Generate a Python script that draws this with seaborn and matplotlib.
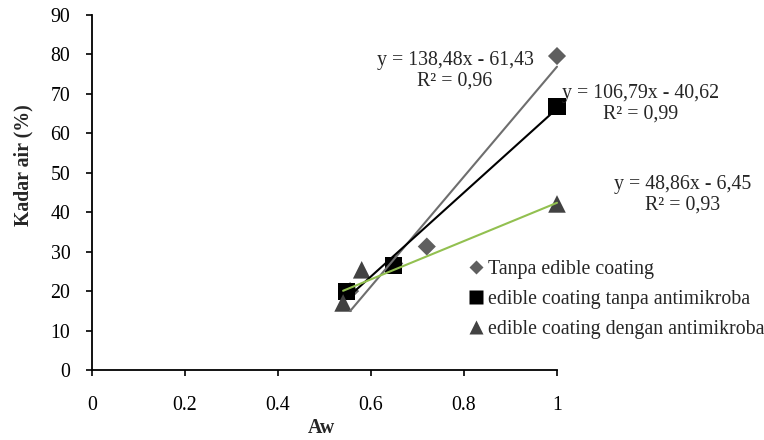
import numpy as np
import pandas as pd
import matplotlib
matplotlib.use("Agg")
import matplotlib.pyplot as plt
import seaborn as sns

# Data
series_names = ["Tanpa edible coating",
                "edible coating tanpa antimikroba",
                "edible coating dengan antimikroba"]
aw_tanpa = [0.555, 0.65, 0.72, 1.0]
ka_tanpa = [20.0, 27.0, 31.3, 79.6]
aw_tanpa_anti = [0.548, 0.649, 1.0]
ka_tanpa_anti = [20.0, 26.6, 66.8]
aw_dengan_anti = [0.54, 0.58, 1.0]
ka_dengan_anti = [17.0, 25.4, 42.1]
equations = ["y = 138,48x - 61,43\nR² = 0,96",
             "y = 106,79x - 40,62\nR² = 0,99",
             "y = 48,86x - 6,45\nR² = 0,93"]
x_ticks = [0, 0.2, 0.4, 0.6, 0.8, 1]
x_tick_labels = ["0", "0.2", "0.4", "0.6", "0.8", "1"]
y_ticks = [0, 10, 20, 30, 40, 50, 60, 70, 80, 90]

sns.set_style("white")
plt.rcParams['font.family'] = ['Liberation Serif', 'DejaVu Serif']

FS = 14.3

fig = plt.figure(figsize=(7.64, 4.40), dpi=100)
W, H = 764, 440
ax = fig.add_axes([92 / W, 1 - 370 / H, (557 - 92) / W, (370 - 15) / H])

df = pd.concat([
    pd.DataFrame({"Aw": aw_tanpa, "Kadar": ka_tanpa, "seri": series_names[0]}),
    pd.DataFrame({"Aw": aw_tanpa_anti, "Kadar": ka_tanpa_anti, "seri": series_names[1]}),
    pd.DataFrame({"Aw": aw_dengan_anti, "Kadar": ka_dengan_anti, "seri": series_names[2]}),
])

marker_colors = ["#5f5f5f", "#000000", "#424242"]
line_colors = ["#6e6e6e", "#000000", "#92c050"]
markers = ["D", "s", "^"]
sizes = [85, 150, 160]

handles = []
for i, name in enumerate(series_names):
    sub = df[df["seri"] == name]
    sns.scatterplot(data=sub, x="Aw", y="Kadar", marker=markers[i], s=sizes[i],
                    color=marker_colors[i], edgecolor="none", ax=ax, zorder=3 + i,
                    legend=False, clip_on=False)
for i, name in enumerate(series_names):
    sub = df[df["seri"] == name]
    p = np.polyfit(sub["Aw"], sub["Kadar"], 1)
    xs = np.array([sub["Aw"].min(), sub["Aw"].max()])
    ax.plot(xs, np.polyval(p, xs), color=line_colors[i], lw=1.5, zorder=6,
            clip_on=False)
    handles.append(plt.Line2D([], [], marker=markers[i], ls="none",
                              color=marker_colors[i], markeredgecolor="none",
                              markersize=[7.5, 10, 10][i]))

ax.set_xlim(0, 1)
ax.set_ylim(0, 90)
ax.set_xticks(x_ticks)
ax.set_xticklabels(x_tick_labels)
ax.set_yticks(y_ticks)
for s in ["top", "right"]:
    ax.spines[s].set_visible(False)
for s in ["left", "bottom"]:
    ax.spines[s].set_color("black")
    ax.spines[s].set_linewidth(1.3)
ax.tick_params(axis="both", labelsize=FS, colors="black", length=4.5, width=1.2,
               direction="out")
ax.tick_params(axis="x", pad=14.5, bottom=True)
ax.tick_params(axis="y", pad=11, left=True)

ax.set_xlabel("Aw", fontsize=FS, fontweight="bold")
ax.set_ylabel("Kadar air (%)", fontsize=FS, fontweight="bold")
ax.xaxis.label.set_va("center")
ax.yaxis.label.set_va("center")
ax.xaxis.set_label_coords((321 - 92) / 465, (370 - 428) / 355)
ax.yaxis.set_label_coords((23 - 92) / 465, (370 - 165) / 355)

def px2data(px, py):
    return (px - 92) / 465, (370 - py) / (355 / 90)

eq_pos = [(455, 71), (641, 104), (683, 195)]
for txt, (px, py) in zip(equations, eq_pos):
    x, y = px2data(px, py)
    ax.text(x, y, txt, ha="center", va="center", fontsize=FS, clip_on=False,
            linespacing=1.08, zorder=10)

fig.legend(handles, series_names, loc="upper left",
           bbox_to_anchor=(466 / W, 1 - 260 / H), frameon=False, fontsize=FS,
           handlelength=1.0, handletextpad=0.1, labelspacing=0.56, borderpad=0,
           borderaxespad=0)

fig.savefig("out.png", dpi=100)
